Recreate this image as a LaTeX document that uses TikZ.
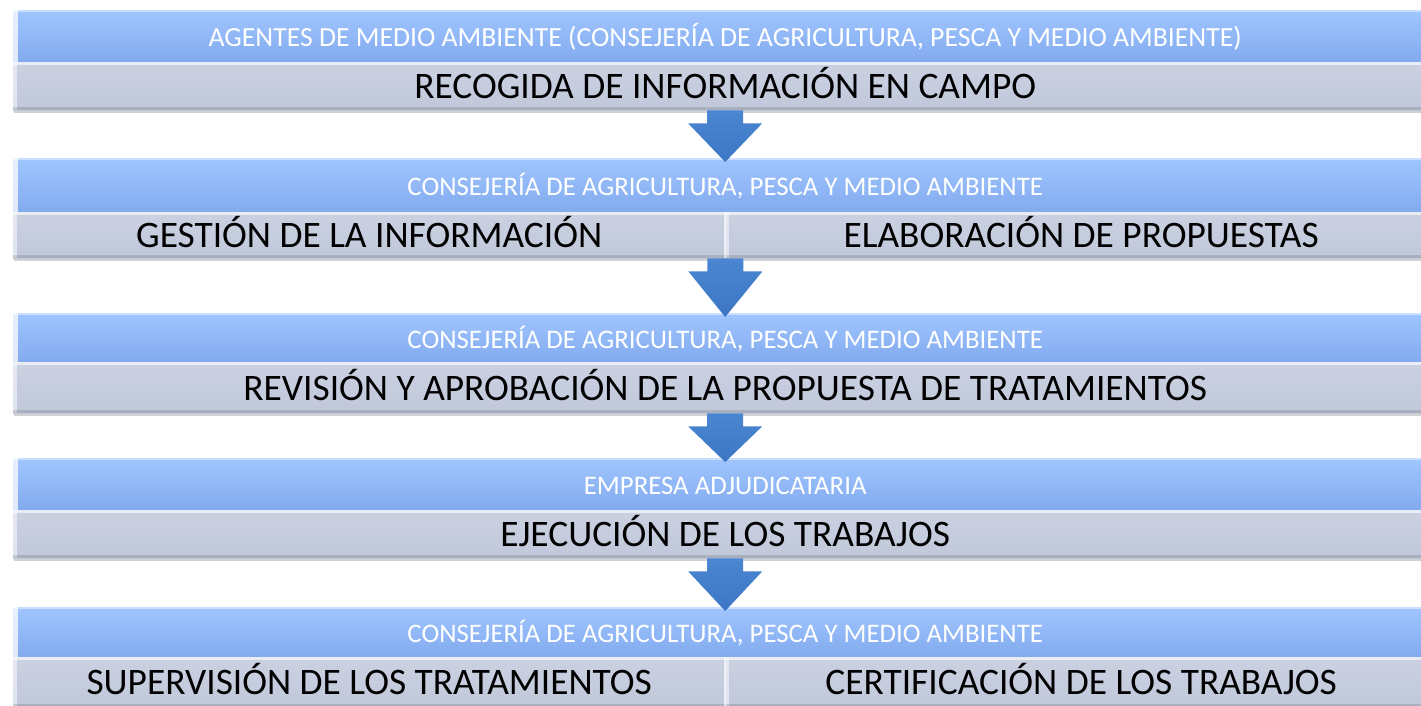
\documentclass[tikz,border=0pt]{standalone}
\usepackage{fontspec}
\setmainfont{Carlito}
\usetikzlibrary{calc,shadows}
\definecolor{bandtop}{RGB}{160,197,255}
\definecolor{bandbot}{RGB}{130,170,238}
\definecolor{graytop}{RGB}{203,209,225}
\definecolor{graybot}{RGB}{192,200,218}
\definecolor{arrowblue}{RGB}{74,134,210}
\definecolor{arrowdark}{RGB}{60,118,196}
\tikzset{
  x=1pt, y=-1pt,
  band/.style={rectangle, inner sep=0pt, anchor=north west, draw=none,
    minimum width=1424pt, minimum height=#1,
    top color=bandtop, bottom color=bandbot, text=white,
    font=\fontsize{26.8}{30}\selectfont, text height=21pt, text depth=0pt,
    path picture={
      \fill[white,opacity=.75] (path picture bounding box.north west) rectangle ([xshift=5pt]path picture bounding box.south west);
      \fill[white,opacity=.45] (path picture bounding box.north west) rectangle ([yshift=-2pt]path picture bounding box.north east);
    }},
  cell/.style={rectangle, inner sep=0pt, anchor=north west, draw=none,
    minimum width=#1, minimum height=48pt,
    top color=graytop, bottom color=graybot, text=black,
    font=\fontsize{37.4}{40}\selectfont, text height=25pt, text depth=0pt,
    drop shadow={shadow xshift=1pt, shadow yshift=-3pt, opacity=.35},
    path picture={
      \fill[white,opacity=.6] (path picture bounding box.north west) rectangle ([yshift=-3pt]path picture bounding box.north east);
      \fill[white,opacity=.5] (path picture bounding box.north west) rectangle ([xshift=4pt]path picture bounding box.south west);
      \fill[black,opacity=.12] (path picture bounding box.south west) rectangle ([yshift=3pt]path picture bounding box.south east);
    }},
  flowarrow/.style={top color=arrowblue, bottom color=arrowdark, draw=none}
}
\newcommand{\flowarrow}[2]{%
  \path let \p1=(#1.south), \p2=(#2.north) in
    [flowarrow] (\x1-18pt,\y1) -- (\x1-18pt,\y1-13pt) -- (\x1-37pt,\y1-13pt)
    -- (\x2,\y2-4pt) -- (\x1+37pt,\y1-13pt) -- (\x1+18pt,\y1-13pt)
    -- (\x1+18pt,\y1) -- cycle;
}
\begin{document}
\begin{tikzpicture}
\useasboundingbox (0,0) rectangle (1421,705);
\clip (0,0) rectangle (1421,705);
\fill[white] (0,0) rectangle (1421,705);

% block 1
\node[band=52pt, font=\fontsize{27.7}{30}\selectfont] (t1) at (13,10) {AGENTES DE MEDIO AMBIENTE (CONSEJERÍA DE AGRICULTURA, PESCA Y MEDIO AMBIENTE)};
\node[cell=1424pt] (g1) at (13,62) {RECOGIDA DE INFORMACIÓN EN CAMPO};

% block 2
\node[band=54pt] (t2) at (13,158) {CONSEJERÍA DE AGRICULTURA, PESCA Y MEDIO AMBIENTE};
\node[cell=712pt, minimum height=46pt] (g2a) at (13,212) {GESTIÓN DE LA INFORMACIÓN};
\node[cell=712pt, minimum height=46pt] (g2b) at (725,212) {ELABORACIÓN DE PROPUESTAS};
\draw[white,opacity=.6,line width=2pt] (g2a.north east) -- (g2a.south east);

% block 3
\node[band=49pt] (t3) at (13,313) {CONSEJERÍA DE AGRICULTURA, PESCA Y MEDIO AMBIENTE};
\node[cell=1424pt, minimum height=51pt] (g3) at (13,362) {REVISIÓN Y APROBACIÓN DE LA PROPUESTA DE TRATAMIENTOS};

% block 4
\node[band=52pt] (t4) at (13,458) {EMPRESA ADJUDICATARIA};
\node[cell=1424pt] (g4) at (13,510) {EJECUCIÓN DE LOS TRABAJOS};

% block 5
\node[band=50pt] (t5) at (13,607) {CONSEJERÍA DE AGRICULTURA, PESCA Y MEDIO AMBIENTE};
\node[cell=712pt, minimum height=50pt] (g5a) at (13,657) {SUPERVISIÓN DE LOS TRATAMIENTOS};
\node[cell=712pt, minimum height=50pt] (g5b) at (725,657) {CERTIFICACIÓN DE LOS TRABAJOS};
\draw[white,opacity=.6,line width=2pt] (g5a.north east) -- (g5a.south east);

% arrows
\flowarrow{g1}{t2}
\flowarrow{g2a.south east|-g2a}{t3}
\flowarrow{g3}{t4}
\flowarrow{g4}{t5}
\end{tikzpicture}
\end{document}
